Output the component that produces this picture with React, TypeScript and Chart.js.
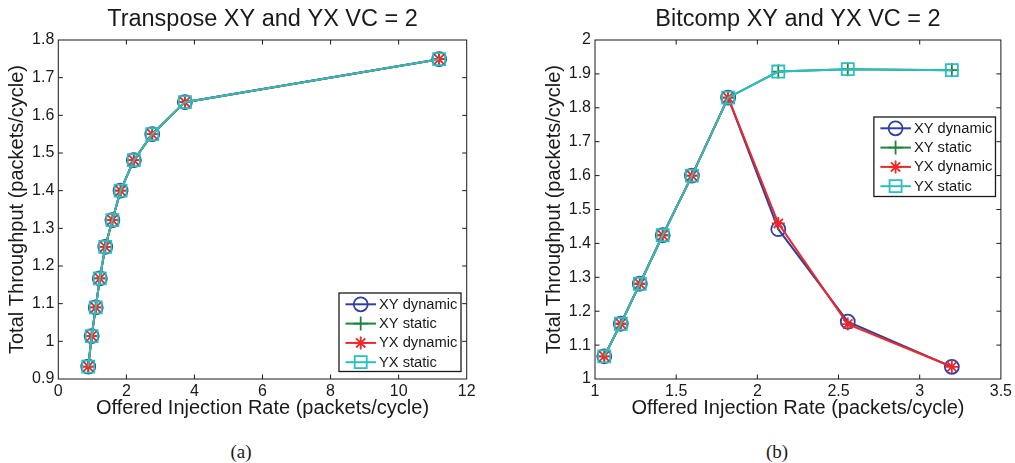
import React, { useEffect, useRef } from "react";
import { Chart, registerables } from "chart.js";

Chart.register(...registerables);

// ---------- shared series info ----------
const seriesLabels = ["XY dynamic", "XY static", "YX dynamic", "YX static"];
const seriesColors = ["#3040A0", "#1E8540", "#EC2828", "#2CBFBF"];
const seriesMarkers = ["circle", "cross", "star", "rect"];
const markerRadius = [7, 7, 6.5, 8.5];

// ---------- (a) Transpose XY and YX VC = 2 ----------
const transposeTitle = "Transpose XY and YX VC = 2";
const transposeRate = [0.88, 0.98, 1.1, 1.22, 1.38, 1.59, 1.83, 2.22, 2.76, 3.72, 11.19];
const transposeXYDynamic = [0.933, 1.014, 1.09, 1.167, 1.251, 1.322, 1.4, 1.481, 1.55, 1.635, 1.749];
const transposeXYStatic = [0.933, 1.014, 1.09, 1.167, 1.251, 1.322, 1.4, 1.481, 1.55, 1.635, 1.749];
const transposeYXDynamic = [0.933, 1.014, 1.09, 1.167, 1.251, 1.322, 1.4, 1.481, 1.55, 1.635, 1.749];
const transposeYXStatic = [0.933, 1.014, 1.09, 1.167, 1.251, 1.322, 1.4, 1.481, 1.55, 1.635, 1.749];
const transposeXTicks = [0, 2, 4, 6, 8, 10, 12];
const transposeYTicks = [0.9, 1, 1.1, 1.2, 1.3, 1.4, 1.5, 1.6, 1.7, 1.8];

// ---------- (b) Bitcomp XY and YX VC = 2 ----------
const bitcompTitle = "Bitcomp XY and YX VC = 2";
const bitcompRate = [1.057, 1.159, 1.276, 1.417, 1.597, 1.82, 2.129, 2.557, 3.198];
const bitcompXYDynamic = [1.067, 1.163, 1.281, 1.424, 1.6, 1.83, 1.442, 1.169, 1.036];
const bitcompXYStatic = [1.067, 1.163, 1.281, 1.424, 1.6, 1.83, 1.907, 1.914, 1.911];
const bitcompYXDynamic = [1.067, 1.163, 1.281, 1.424, 1.6, 1.83, 1.459, 1.162, 1.036];
const bitcompYXStatic = [1.067, 1.163, 1.281, 1.424, 1.6, 1.83, 1.907, 1.914, 1.911];
const bitcompXTicks = [1, 1.5, 2, 2.5, 3, 3.5];
const bitcompYTicks = [1, 1.1, 1.2, 1.3, 1.4, 1.5, 1.6, 1.7, 1.8, 1.9, 2];

const xAxisTitle = "Offered Injection Rate (packets/cycle)";
const yAxisTitle = "Total Throughput (packets/cycle)";

const FONT = "'Liberation Sans', Arial, Helvetica, sans-serif";
const INK = "#1a1a1a";

function drawMarker(ctx: CanvasRenderingContext2D, style: string, x: number, y: number, r: number) {
  ctx.beginPath();
  if (style === "circle") {
    ctx.arc(x, y, r, 0, Math.PI * 2);
  } else if (style === "cross") {
    ctx.moveTo(x, y - r); ctx.lineTo(x, y + r);
    ctx.moveTo(x - r, y); ctx.lineTo(x + r, y);
  } else if (style === "star") {
    const d = r * Math.SQRT1_2;
    ctx.moveTo(x, y - r); ctx.lineTo(x, y + r);
    ctx.moveTo(x - r, y); ctx.lineTo(x + r, y);
    ctx.moveTo(x - d, y - d); ctx.lineTo(x + d, y + d);
    ctx.moveTo(x - d, y + d); ctx.lineTo(x + d, y - d);
  } else if (style === "rect") {
    const s = r * Math.SQRT1_2;
    ctx.rect(x - s, y - s, 2 * s, 2 * s);
  }
  ctx.stroke();
}

const framePlugin = {
  id: "matlabFrame",
  afterDatasetsDraw(chart: any) {
    const { ctx, chartArea: a, scales } = chart;
    const tl = 4.5;
    ctx.save();
    ctx.strokeStyle = INK;
    ctx.lineWidth = 1;
    ctx.strokeRect(a.left, a.top, a.right - a.left, a.bottom - a.top);
    ctx.beginPath();
    scales.x.ticks.forEach((t: any) => {
      const p = scales.x.getPixelForValue(t.value);
      if (p > a.left + 1 && p < a.right - 1) {
        ctx.moveTo(p, a.bottom); ctx.lineTo(p, a.bottom - tl);
        ctx.moveTo(p, a.top); ctx.lineTo(p, a.top + tl);
      }
    });
    scales.y.ticks.forEach((t: any) => {
      const p = scales.y.getPixelForValue(t.value);
      if (p > a.top + 1 && p < a.bottom - 1) {
        ctx.moveTo(a.left, p); ctx.lineTo(a.left + tl, p);
        ctx.moveTo(a.right, p); ctx.lineTo(a.right - tl, p);
      }
    });
    ctx.stroke();
    ctx.restore();
  },
};

const boxLegendPlugin = {
  id: "boxLegend",
  afterDraw(chart: any, _args: any, opts: any) {
    const { ctx, chartArea: a } = chart;
    const w = opts.width;
    const rowH = 19.3;
    const h = opts.height;
    const x0 = a.right - opts.right - w;
    const y0 = opts.top != null ? a.top + opts.top : a.bottom - opts.bottom - h;
    ctx.save();
    ctx.fillStyle = "#ffffff";
    ctx.fillRect(x0, y0, w, h);
    ctx.strokeStyle = INK;
    ctx.lineWidth = 1.3;
    ctx.strokeRect(x0, y0, w, h);
    ctx.font = `14.7px ${FONT}`;
    ctx.textBaseline = "middle";
    ctx.textAlign = "left";
    chart.data.datasets.forEach((ds: any, i: number) => {
      const cy = y0 + 11.3 + i * rowH;
      ctx.strokeStyle = ds.borderColor;
      ctx.lineWidth = 2;
      ctx.beginPath();
      ctx.moveTo(x0 + 6.5, cy);
      ctx.lineTo(x0 + 37, cy);
      ctx.stroke();
      ctx.lineWidth = 1.8;
      drawMarker(ctx, ds.pointStyle, x0 + 21.7, cy, ds.pointRadius);
      ctx.fillStyle = INK;
      ctx.fillText(ds.label, x0 + 40, cy + 0.5);
    });
    ctx.restore();
  },
};

type PanelProps = {
  title: string;
  rate: number[];
  series: number[][];
  xTicks: number[];
  yTicks: number[];
  width: number;
  rightPad: number;
  yWidth: number;
  legend: any;
};

function Panel(props: PanelProps) {
  const ref = useRef<HTMLCanvasElement | null>(null);
  useEffect(() => {
    if (!ref.current) return;
    const { rate, series, xTicks, yTicks } = props;
    const datasets = series.map((vals, i) => ({
      label: seriesLabels[i],
      data: vals.map((v, j) => ({ x: rate[j], y: v })),
      borderColor: seriesColors[i],
      backgroundColor: "rgba(0,0,0,0)",
      borderWidth: 2,
      pointStyle: seriesMarkers[i],
      pointRadius: markerRadius[i],
      pointBorderWidth: 1.8,
      pointBorderColor: seriesColors[i],
      pointBackgroundColor: "rgba(0,0,0,0)",
      tension: 0,
      order: series.length - 1 - i,
    }));
    const chart = new Chart(ref.current, {
      type: "line",
      data: { datasets },
      plugins: [framePlugin, boxLegendPlugin],
      options: {
        animation: false,
        responsive: false,
        maintainAspectRatio: false,
        layout: { padding: { left: 0, right: props.rightPad, top: 0, bottom: 10 } },
        plugins: {
          legend: { display: false },
          tooltip: { enabled: false },
          title: {
            display: true,
            text: props.title,
            color: INK,
            fullSize: false,
            font: { family: FONT, size: 23.5, weight: "normal", lineHeight: 1.2 },
            padding: { top: 5.8, bottom: 6 },
          },
          boxLegend: props.legend,
        } as any,
        scales: {
          x: {
            type: "linear",
            min: xTicks[0],
            max: xTicks[xTicks.length - 1],
            afterBuildTicks: (s: any) => { s.ticks = xTicks.map((v) => ({ value: v })); },
            afterFit: (s: any) => { s.height = 41; },
            grid: { display: false, drawTicks: false },
            border: { display: false },
            ticks: {
              autoSkip: false,
              maxRotation: 0,
              padding: 3,
              color: INK,
              font: { family: FONT, size: 16 },
              callback: (v: any) => String(v),
            },
            title: {
              display: true,
              text: xAxisTitle,
              color: INK,
              font: { family: FONT, size: 20, lineHeight: 1.2 },
              padding: { top: 0, bottom: 0 },
            },
          },
          y: {
            type: "linear",
            min: yTicks[0],
            max: yTicks[yTicks.length - 1],
            afterBuildTicks: (s: any) => { s.ticks = yTicks.map((v) => ({ value: v })); },
            afterFit: (s: any) => { s.width = props.yWidth; },
            grid: { display: false, drawTicks: false },
            border: { display: false },
            ticks: {
              autoSkip: false,
              padding: 4,
              color: INK,
              font: { family: FONT, size: 16 },
              callback: (v: any) => String(v),
            },
            title: {
              display: true,
              text: yAxisTitle,
              color: INK,
              font: { family: FONT, size: 20, lineHeight: 1.2 },
              padding: { top: 5, bottom: 0 },
            },
          },
        },
      } as any,
    });
    return () => chart.destroy();
  }, []);
  return (
    <canvas
      ref={ref}
      width={props.width}
      height={430}
      style={{ width: props.width, height: 430, display: "block" }}
    />
  );
}

const captionStyle: React.CSSProperties = {
  position: "absolute",
  top: 442,
  width: 60,
  textAlign: "center",
  fontFamily: "'Liberation Serif', 'Times New Roman', serif",
  fontSize: 19,
  lineHeight: "19px",
  color: INK,
};

export default function App() {
  return (
    <div
      style={{
        position: "absolute",
        left: 0,
        top: 0,
        width: 1015,
        height: 463,
        overflow: "hidden",
        background: "#ffffff",
      }}
    >
      <div style={{ position: "absolute", left: 0, top: 0 }}>
        <Panel
          title={transposeTitle}
          rate={transposeRate}
          series={[transposeXYDynamic, transposeXYStatic, transposeYXDynamic, transposeYXStatic]}
          xTicks={transposeXTicks}
          yTicks={transposeYTicks}
          width={500}
          rightPad={33.3}
          yWidth={58.3}
          legend={{ right: 5.7, bottom: 7.5, width: 122, height: 78.5 }}
        />
      </div>
      <div style={{ position: "absolute", left: 537, top: 0 }}>
        <Panel
          title={bitcompTitle}
          rate={bitcompRate}
          series={[bitcompXYDynamic, bitcompXYStatic, bitcompYXDynamic, bitcompYXStatic]}
          xTicks={bitcompXTicks}
          yTicks={bitcompYTicks}
          width={478}
          rightPad={12.3}
          yWidth={58}
          legend={{ right: 5.4, top: 77, width: 121.6, height: 79.5 }}
        />
      </div>
      <div style={{ ...captionStyle, left: 241 - 30 }}>(a)</div>
      <div style={{ ...captionStyle, left: 777 - 30 }}>(b)</div>
    </div>
  );
}
